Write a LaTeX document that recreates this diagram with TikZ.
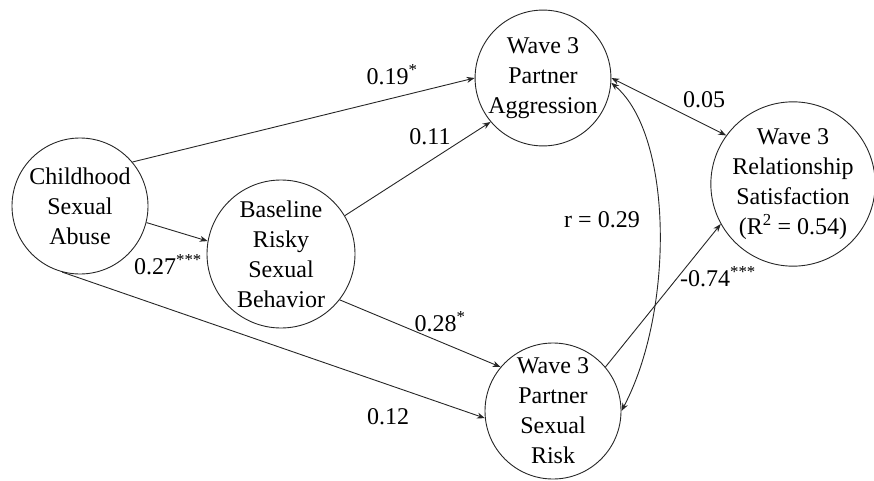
\documentclass[tikz,border=0pt]{standalone}
\usepackage{fontspec}
\setmainfont{Liberation Serif}
\usetikzlibrary{arrows.meta}
\begin{document}
\begin{tikzpicture}[x=1pt,y=-1pt,
  var/.style={draw=black!85, circle, line width=0.9pt, inner sep=0pt, align=center, font=\fontsize{24}{30}\selectfont},
  lbl/.style={font=\fontsize{24}{30}\selectfont, inner sep=0pt},
  conn/.style={draw=black!85, line width=0.9pt, -{Stealth[length=8pt,width=6pt]}},
  conntwo/.style={draw=black!85, line width=0.9pt, {Stealth[length=8pt,width=6pt]}-{Stealth[length=8pt,width=6pt]}}]
\useasboundingbox (0,0) rectangle (874,481);
\node[var, minimum size=136pt] (CSA) at (80,206) {Childhood\\Sexual\\Abuse};
\node[var, minimum size=148pt] (BRSB) at (281,254) {Baseline\\Risky\\Sexual\\Behavior};
\node[var, minimum size=134pt] (PA) at (543,78) {Wave 3\\Partner\\Aggression};
\node[var, minimum size=160pt] (RS) at (793,184) {Wave 3\\Relationship\\Satisfaction\\(R\textsuperscript{2} = 0.54)};
\node[var, minimum size=136pt] (PSR) at (553,411) {Wave 3\\Partner\\Sexual\\Risk};

\draw[conn] (CSA.40) -- (PA.180);
\draw[conn] (BRSB.31) -- (PA.220);
\draw[conn] (CSA.-14) -- (BRSB.170);
\draw[conn] (CSA.255) -- (PSR.186);
\draw[conn] (BRSB.-38) -- (PSR.140);
\draw[conntwo] (PA.0) -- (RS.144);
\draw[conntwo] (PA.-4) .. controls +(62,52) and +(53,-100) .. (PSR.0);
\draw[conn] (PSR.40) -- (RS.209);

\node[lbl] (l019) at (392,75) {0.19\textsuperscript{*}};
\node[lbl] (l011) at (430,137) {0.11};
\node[lbl] (l027) at (168,265) {0.27\textsuperscript{***}};
\node[lbl] (l012) at (388,417) {0.12};
\node[lbl] (l028) at (440,322) {0.28\textsuperscript{*}};
\node[lbl] (l005) at (704,100) {0.05};
\node[lbl] (lr) at (602,220) {r = 0.29};
\node[lbl] (l074) at (718,277) {-0.74\textsuperscript{***}};
\end{tikzpicture}
\end{document}
